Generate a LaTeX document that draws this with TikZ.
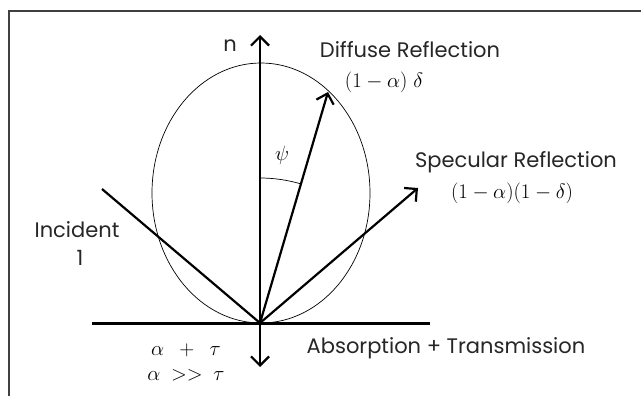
\documentclass[tikz,border=0pt]{standalone}
\usepackage{fontspec}
\setmainfont{Poppins}
\usetikzlibrary{arrows.meta}

\begin{document}
\begin{tikzpicture}[x=1pt, y=-1pt,
  ray/.style={line width=2.2pt, -{Straight Barb[length=9pt,width=18pt]}},
  plainray/.style={line width=2.2pt},
  lbl/.style={font=\fontsize{21}{24}\selectfont, text=black!85, inner sep=0pt},
  mlbl/.style={font=\fontsize{20}{23}\selectfont, inner sep=0pt}
]
\useasboundingbox (0,0) rectangle (641,396);

% Frame
\draw[black!75, line width=1.4pt] (9,400) -- (9,11) -- (645,11);

% Points
\coordinate (O) at (260,323);
\coordinate (ntip) at (260,35);
\coordinate (dtip) at (328,92);
\coordinate (stip) at (418,188);
\coordinate (istart) at (102,189);
\coordinate (down) at (260,367);
\coordinate (surfL) at (92,323);
\coordinate (surfR) at (430,323);
\coordinate (ellc) at (261,193);

% Lobe
\draw[line width=0.7pt] (ellc) ellipse [x radius=109pt, y radius=130pt];

% Surface
\draw[line width=3pt] (surfL) -- (surfR);

% Rays
\draw[ray] (O) -- (ntip);
\draw[ray] (O) -- (down);
\draw[ray] (O) -- (dtip);
\draw[ray] (O) -- (stip);
\draw[plainray] (istart) -- (O);

% Angle psi
\path (O) ++(0,-145) coordinate (psiA);
\draw[line width=0.7pt] (psiA) arc[start angle=90, end angle=73.6, radius=145pt];

% Labels
\node[lbl] (nlbl) at (230,46) {n};
\node[mlbl] (psi) at (282,155) {$\psi$};
\node[lbl] (diffuse) at (410,50) {Diffuse Reflection};
\node[mlbl] (diffval) at (384,82) {$(1-\alpha)\;\delta$};
\node[lbl] (specular) at (516,162) {Specular Reflection};
\node[mlbl] (specval) at (512,193) {$(1-\alpha)(1-\delta)$};
\node[lbl] (incident) at (77,230) {Incident};
\node[lbl] (one) at (80,258) {1};
\node[mlbl] (sum) at (186,350) {$\alpha\ \ +\ \ \tau$};
\node[mlbl] (ineq) at (186,375) {$\alpha\ \ {>}{>}\ \ \tau$};
\node[lbl] (absorb) at (446,348) {Absorption + Transmission};

\end{tikzpicture}
\end{document}
